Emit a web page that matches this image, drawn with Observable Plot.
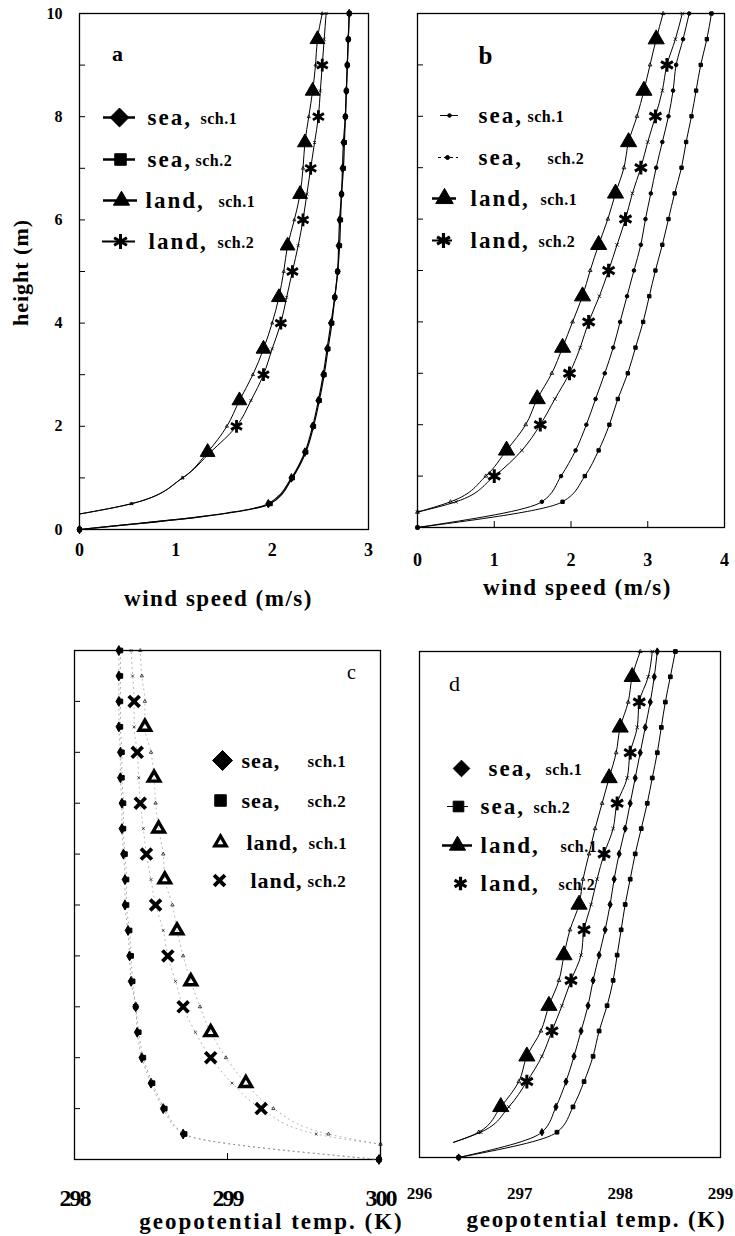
<!DOCTYPE html>
<html><head><meta charset="utf-8">
<script src="https://cdn.jsdelivr.net/npm/d3@7"></script>
<script src="https://cdn.jsdelivr.net/npm/@observablehq/plot@0.6"></script>
<style>
html,body{margin:0;padding:0;background:#fff}
#root{position:relative;width:735px;height:1236px;overflow:hidden;background:#fff}
#root svg{position:absolute}
</style></head><body><div id="root"></div>
<script>
// ---------------- data ----------------
const H_SEA  = [0,0.5,1,1.5,2,2.5,3,3.5,4,4.5,5,5.5,6,6.5,7,7.5,8,8.5,9,9.5,10];
const H_LAND = [0.3,0.5,1,1.5,2,2.5,3,3.5,4,4.5,5,5.5,6,6.5,7,7.5,8,8.5,9,9.5,10];
const Y_TICKS = [0,2,4,6,8,10];
const Y_MINOR = [1,2,3,4,5,6,7,8,9];

// panel a : wind speed (m/s)
const aSea1  = [0,1.96,2.20,2.34,2.42,2.48,2.53,2.57,2.61,2.65,2.68,2.69,2.70,2.72,2.73,2.74,2.76,2.77,2.78,2.79,2.80];
const aSea2  = [0,1.98,2.21,2.35,2.43,2.49,2.54,2.58,2.62,2.65,2.68,2.70,2.71,2.72,2.74,2.75,2.76,2.77,2.78,2.79,2.80];
const aLand1 = [0,0.54,1.07,1.33,1.53,1.66,1.80,1.91,2.00,2.07,2.12,2.16,2.23,2.29,2.32,2.34,2.38,2.42,2.45,2.47,2.52];
const aLand2 = [0,0.54,1.07,1.36,1.63,1.78,1.91,2.00,2.09,2.15,2.21,2.27,2.32,2.36,2.40,2.44,2.48,2.50,2.52,2.54,2.56];
const aBigLand1 = [1.5,2.5,3.5,4.5,5.5,6.5,7.5,8.5,9.5];
const aBigLand2 = [2,3,4,5,6,7,8,9];
const aXTicks = [0,1,2,3];

// panel b : wind speed (m/s)
const bSea1  = [0,1.62,1.87,2.06,2.20,2.32,2.44,2.55,2.64,2.73,2.82,2.91,2.97,3.04,3.11,3.19,3.27,3.33,3.37,3.46,3.54];
const bSea2  = [0,1.89,2.18,2.36,2.50,2.61,2.74,2.84,2.94,3.02,3.10,3.19,3.27,3.35,3.44,3.50,3.57,3.63,3.69,3.77,3.83];
const bLand1 = [0,0.43,0.89,1.16,1.41,1.56,1.75,1.89,2.02,2.15,2.25,2.36,2.48,2.58,2.69,2.75,2.86,2.95,3.03,3.11,3.20];
const bLand2 = [0,0.50,1.00,1.36,1.60,1.79,1.98,2.12,2.23,2.37,2.49,2.60,2.71,2.80,2.91,3.00,3.10,3.19,3.25,3.36,3.45];
const bBigLand1 = [1.5,2.5,3.5,4.5,5.5,6.5,7.5,8.5,9.5];
const bBigLand2 = [1,2,3,4,5,6,7,8,9];
const bXTicks = [0,1,2,3,4];

// panel c : geopotential temp. (K)
const cSea1  = [299.99,298.71,298.58,298.50,298.44,298.41,298.40,298.37,298.36,298.35,298.33,298.33,298.32,298.31,298.31,298.30,298.30,298.29,298.29,298.29,298.29];
const cSea2  = [299.99,298.72,298.59,298.51,298.45,298.42,298.40,298.38,298.37,298.36,298.34,298.34,298.33,298.32,298.32,298.31,298.31,298.30,298.30,298.30,298.30];
const cLand1 = [300.0,299.66,299.30,299.12,298.99,298.89,298.82,298.76,298.71,298.67,298.64,298.59,298.58,298.55,298.53,298.52,298.50,298.46,298.46,298.44,298.43];
const cLand2 = [300.0,299.58,299.22,299.03,298.89,298.79,298.71,298.66,298.61,298.58,298.53,298.50,298.47,298.45,298.43,298.42,298.41,298.39,298.39,298.38,298.37];
const cBigLand1 = [1.5,2.5,3.5,4.5,5.5,6.5,7.5,8.5];
const cBigLand2 = [1,2,3,4,5,6,7,8,9];
const cXTicks = [298,299,300];

// panel d : geopotential temp. (K)
const dSea1  = [296.39,297.22,297.36,297.46,297.54,297.61,297.68,297.73,297.79,297.85,297.90,297.94,297.99,298.05,298.10,298.15,298.20,298.25,298.30,298.34,298.37];
const dSea2  = [296.39,297.37,297.53,297.64,297.73,297.79,297.87,297.93,297.97,298.01,298.05,298.10,298.15,298.21,298.27,298.32,298.37,298.41,298.45,298.50,298.55];
const dLand1 = [296.34,296.59,296.81,296.99,297.07,297.21,297.29,297.39,297.44,297.50,297.59,297.63,297.69,297.75,297.82,297.89,297.96,298.00,298.08,298.12,298.20];
const dLand2 = [296.34,296.61,296.89,297.07,297.22,297.32,297.42,297.51,297.61,297.64,297.71,297.77,297.84,297.93,297.97,298.07,298.10,298.17,298.19,298.28,298.32];
const dBigLand1 = [1,2,3,4,5,7.5,8.5,9.5];
const dBigLand2 = [1.5,2.5,3.5,4.5,6,7,8,9];
const dXTicks = [296,297,298,299];

const legendName = ["sea,","sea,","land,","land,"];
const legendSch  = ["sch.1","sch.2","sch.1","sch.2"];
const panelLetters = ["a","b","c","d"];
const windTitle = "wind speed (m/s)";
const tempTitle = "geopotential temp. (K)";
const yTitle = "height (m)";

// ---------------- drawing ----------------
const FONT = "Liberation Serif";
const root = document.getElementById("root");
const K = "black";

function build(cfg) {
  const {left, top, width, height, xDomain, xPx, yPx} = cfg;
  const px2x = d3.scaleLinear().domain(xPx).range(xDomain);
  const px2y = d3.scaleLinear().domain(yPx).range([0, 10]);
  const mL = xPx[0] - left, mR = left + width - xPx[1];
  const mT = yPx[1] - top,  mB = top + height - yPx[0];
  const marks = [];
  const txt = (s, px, py, o) => Plot.text([s], {x: px2x(px), y: px2y(py), lineAnchor: "middle",
    fontFamily: FONT, fontWeight: "bold", fill: K, ...o});

  marks.push(Plot.frame({stroke: K, strokeWidth: 1.3}));
  if (cfg.leftTicks) marks.push(Plot.ruleY(Y_MINOR, {y: d => d, x1: xDomain[0], x2: px2x(xPx[0] + 6), stroke: K, strokeWidth: 1}));
  if (cfg.bottomTicks) marks.push(Plot.ruleX(cfg.bottomTicks, {x: d => d, y1: 0, y2: px2y(yPx[0] - 6), stroke: K, strokeWidth: 1}));

  for (const s of cfg.series) {
    const rows = s.h.map((h, i) => ({h, v: s.v[i]}));
    marks.push(Plot.line(rows, {x: "v", y: "h", curve: "monotone-y", stroke: s.lineColor || K,
      strokeWidth: s.lw || 1, strokeDasharray: s.dash}));
    const big = s.bigAt || [];
    if (s.small) marks.push(Plot.dot(rows.filter(d => !big.includes(d.h) && !(s.skipFirst && d.h === s.h[0])), {x: "v", y: "h", ...s.small}));
    if (s.big) marks.push(Plot.dot(rows.filter(d => big.includes(d.h)), {x: "v", y: "h", ...s.big}));
  }

  // tick labels
  marks.push(Plot.text(cfg.xTicks, {x: d => d, y: 0, dy: cfg.xLabDy, text: d => String(d), lineAnchor: "middle",
    fontFamily: FONT, fontWeight: "bold", fontSize: cfg.xLabSize, fill: K, ariaDescription: "xtick"}));
  if (cfg.yLabels) marks.push(Plot.text(Y_TICKS, {x: xDomain[0], y: d => d, dx: -17, text: d => String(d), textAnchor: "end",
    lineAnchor: "middle", fontFamily: FONT, fontWeight: "bold", fontSize: 16, fill: K}));
  // axis titles
  marks.push(txt(cfg.xTitle, cfg.titlePos[0], cfg.titlePos[1], {fontSize: 23, ariaDescription: "title"}));
  if (cfg.yTitle) marks.push(txt(cfg.yTitle, cfg.yTitlePos[0], cfg.yTitlePos[1], {fontSize: 22, rotate: -90, ariaDescription: "ytitle"}));
  // panel letter
  marks.push(txt(cfg.letter, cfg.letterPos[0], cfg.letterPos[1], {fontWeight: cfg.letterWeight, fontSize: cfg.letterSize}));

  // legend
  cfg.legend.forEach((L, i) => {
    const y = px2y(L.y);
    if (L.line) marks.push(Plot.ruleY([y], {x1: px2x(L.line[0]), x2: px2x(L.line[1]), stroke: K, strokeWidth: L.lineW || 1.5, strokeDasharray: L.lineDash}));
    marks.push(Plot.dot([{x: px2x(L.mx), y}], {x: "x", y: "y", ...L.m}));
    marks.push(txt(legendName[i], L.tx, L.y, {textAnchor: "start", fontSize: cfg.nameSize, ariaDescription: "lgname"}));
    marks.push(txt(legendSch[i], L.sx, L.y + 1, {textAnchor: "start", fontSize: cfg.schSize, ariaDescription: "lgsch"}));
  });

  const svg = Plot.plot({
    width, height, marginLeft: mL, marginRight: mR, marginTop: mT, marginBottom: mB,
    x: {domain: xDomain, axis: null}, y: {domain: [0, 10], axis: null},
    style: "background:transparent;overflow:visible;",
    marks
  });
  svg.style.left = left + "px";
  svg.style.top = top + "px";
  const sp = (sel, v) => svg.querySelectorAll(`g[aria-description="${sel}"] text`).forEach(t => t.setAttribute("letter-spacing", v));
  sp("lgname", cfg.nameSpacing);
  sp("lgsch", "0.5");
  sp("title", cfg.titleSpacing);
  sp("ytitle", "1");
  sp("xtick", cfg.xLabSpacing || "0");
  root.append(svg);
}

const fill = (symbol, r) => ({symbol, r, fill: K, stroke: K, strokeWidth: 1});
const strk = (symbol, r, w) => ({symbol, r, fill: "none", stroke: K, strokeWidth: w});

// panel a
build({
  left: 0, top: 0, width: 370, height: 620, xDomain: [0, 3], xPx: [79, 368], yPx: [529, 13],
  leftTicks: true, yLabels: true, xTicks: aXTicks, xLabDy: 21, xLabSize: 18,
  xTitle: windTitle, titlePos: [218, 598], titleSpacing: "1.5", yTitle, yTitlePos: [20, 272],
  letter: panelLetters[0], letterPos: [117, 53], letterSize: 22, letterWeight: "bold",
  nameSize: 23, nameSpacing: "2", schSize: 16,
  series: [
    {h: H_SEA, v: aSea1, lw: 1.2, small: fill("diamond", 2.6)},
    {h: H_SEA, v: aSea2, lw: 1.2, small: fill("square", 2.3)},
    {h: H_LAND, v: aLand1, bigAt: aBigLand1, big: fill("triangle", 5.5), small: strk("triangle2", 1.5, 0.8), skipFirst: true},
    {h: H_LAND, v: aLand2, bigAt: aBigLand2, big: strk("asterisk", 6, 2.8), small: strk("times", 1.5, 0.8), skipFirst: true}
  ],
  legend: [
    {y: 117, mx: 119, line: [103, 135], lineW: 2.5, m: fill("diamond2", 8.5), tx: 147, sx: 200},
    {y: 159, mx: 120, line: [103, 135], lineW: 2.5, m: fill("square", 6.5), tx: 147, sx: 195},
    {y: 200, mx: 121, line: [103, 137], lineW: 2.5, m: fill("triangle", 6), tx: 145, sx: 218},
    {y: 241, mx: 120, line: [102, 135], lineW: 2, m: strk("asterisk", 7, 3), tx: 148, sx: 217}
  ]
});

// panel b
build({
  left: 370, top: 0, width: 365, height: 620, xDomain: [0, 4], xPx: [417, 724], yPx: [527, 13],
  leftTicks: true, bottomTicks: [1, 2, 3], xTicks: bXTicks, xLabDy: 33, xLabSize: 18,
  xTitle: windTitle, titlePos: [577, 587], titleSpacing: "1.5",
  letter: panelLetters[1], letterPos: [485, 55], letterSize: 25, letterWeight: "bold",
  nameSize: 23, nameSpacing: "2", schSize: 16,
  series: [
    {h: H_SEA, v: bSea1, small: fill("circle", 1.8)},
    {h: H_SEA, v: bSea2, small: fill("square", 1.9)},
    {h: H_LAND, v: bLand1, bigAt: bBigLand1, big: fill("triangle", 6), small: strk("triangle2", 1.8, 0.8)},
    {h: H_LAND, v: bLand2, bigAt: bBigLand2, big: strk("asterisk", 6.5, 3), small: strk("times", 1.8, 0.8)}
  ],
  legend: [
    {y: 115, mx: 449, line: [440, 458], lineW: 1, m: fill("circle", 1.8), tx: 478, sx: 527},
    {y: 157, mx: 447, line: [438, 458], lineW: 1, lineDash: "3,3", m: fill("circle", 2), tx: 478, sx: 547},
    {y: 198, mx: 444, line: [432, 456], lineW: 2.5, m: fill("triangle", 6.5), tx: 470, sx: 540},
    {y: 240, mx: 443, line: [432, 452], lineW: 2, m: strk("asterisk", 7, 3.2), tx: 470, sx: 538}
  ]
});

// panel c
build({
  left: 0, top: 620, width: 402, height: 616, xDomain: [298, 300], xPx: [74, 380], yPx: [1159, 650],
  leftTicks: true, bottomTicks: [299], xTicks: cXTicks, xLabDy: 39, xLabSize: 24, xLabSpacing: "-2",
  xTitle: tempTitle, titlePos: [271, 1221], titleSpacing: "2",
  letter: panelLetters[2], letterPos: [351, 672], letterSize: 20, letterWeight: "normal",
  nameSize: 22, nameSpacing: "1", schSize: 17,
  series: [
    {h: H_SEA, v: cSea1, lineColor: "#888", lw: 0.8, dash: "1,4", small: fill("diamond", 3)},
    {h: H_SEA, v: cSea2, lineColor: "#888", lw: 0.8, dash: "1,4", small: fill("square", 2.6)},
    {h: H_LAND, v: cLand1, lineColor: "#999", lw: 0.8, dash: "1,4", bigAt: cBigLand1, big: strk("triangle2", 5.5, 3.4), small: strk("triangle2", 1.6, 0.7)},
    {h: H_LAND, v: cLand2, lineColor: "#999", lw: 0.8, dash: "1,4", bigAt: cBigLand2, big: strk("times", 5, 3.8), small: strk("times", 1.4, 0.7)}
  ],
  legend: [
    {y: 760, mx: 222, m: fill("diamond2", 9), tx: 241, sx: 307},
    {y: 800, mx: 220, m: fill("square", 6.5), tx: 241, sx: 307},
    {y: 842, mx: 220, m: strk("triangle2", 5.5, 3.2), tx: 246, sx: 308},
    {y: 880, mx: 219, m: strk("times", 5, 3.8), tx: 250, sx: 307}
  ]
});

// panel d
build({
  left: 400, top: 620, width: 335, height: 616, xDomain: [296, 299], xPx: [419, 720], yPx: [1157, 651],
  xTicks: dXTicks, xLabDy: 36, xLabSize: 17, xLabSpacing: "0",
  xTitle: tempTitle, titlePos: [596, 1219], titleSpacing: "1.8",
  letter: panelLetters[3], letterPos: [454, 683], letterSize: 22, letterWeight: "normal",
  nameSize: 23, nameSpacing: "2", schSize: 16,
  series: [
    {h: H_SEA, v: dSea1, small: fill("diamond", 2.2)},
    {h: H_SEA, v: dSea2, small: fill("square", 2.1)},
    {h: H_LAND, v: dLand1, bigAt: dBigLand1, big: fill("triangle", 6), small: strk("triangle2", 1.8, 0.8), skipFirst: true},
    {h: H_LAND, v: dLand2, bigAt: dBigLand2, big: strk("asterisk", 6.5, 3), small: strk("times", 1.8, 0.8), skipFirst: true}
  ],
  legend: [
    {y: 768, mx: 461, m: fill("diamond2", 7.5), tx: 488, sx: 545},
    {y: 806, mx: 458, line: [447, 468], lineW: 1, m: fill("square", 6), tx: 480, sx: 533},
    {y: 845, mx: 457, line: [442, 472], lineW: 2.5, m: fill("triangle", 6), tx: 480, sx: 560},
    {y: 883, mx: 460, m: strk("asterisk", 6.5, 3.2), tx: 480, sx: 558}
  ]
});
</script></body></html>
